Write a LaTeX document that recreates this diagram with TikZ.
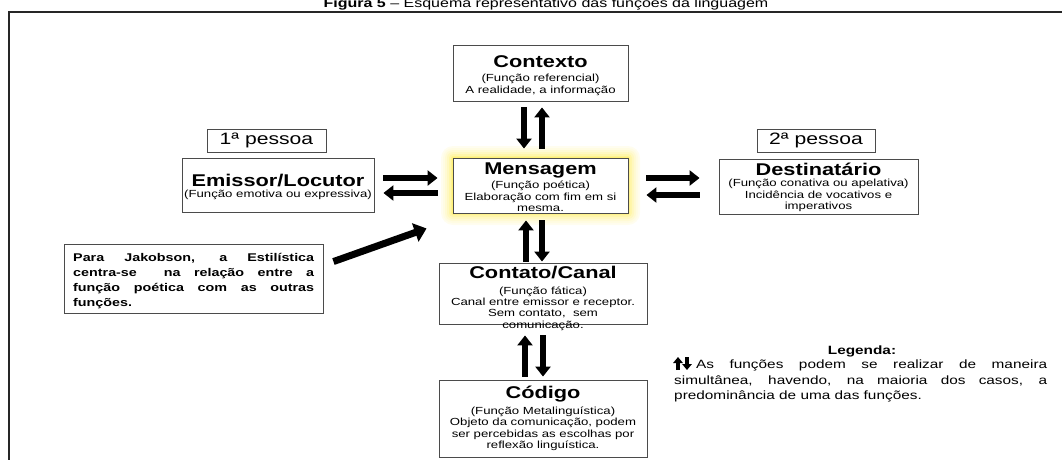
\documentclass[tikz,border=0pt]{standalone}
\usepackage{fontspec}
\setmainfont[FakeStretch=1.28]{Liberation Sans}
\usetikzlibrary{arrows.meta}
\definecolor{glow}{RGB}{255,238,100}
\definecolor{boxline}{RGB}{75,75,75}
\newcommand\boxtitle[1]{{\fontsize{17}{17}\selectfont\bfseries #1}}
\begin{document}
\begin{tikzpicture}[x=1pt,y=-1pt,
  box/.style={draw=boxline,line width=0.9pt,fill=white,inner sep=0pt},
  boxtext/.style={anchor=base,inner sep=0pt,align=center,
    font=\fontsize{10.3}{11.3}\selectfont},
  ptag/.style={draw=boxline,line width=0.9pt,fill=white,inner sep=0pt,
    font=\fontsize{16.5}{16.5}\selectfont},
  fat/.style={line width=5.5pt,-{Triangle[length=10pt,width=15pt]}},
  fatter/.style={line width=7pt,-{Triangle[length=12pt,width=19pt]}},
  tiny/.style={line width=3.5pt,-{Triangle[length=6pt,width=9.5pt]}},
]
\useasboundingbox (0,0) rectangle (1062,459);
% title and frame
\node[anchor=base,inner sep=0pt] (title) at (546,7)
  {\fontsize{12.5}{12.5}\selectfont\textbf{Figura 5} – Esquema representativo das funções da linguagem};
\draw[line width=1.5pt,black!85] (9,480) -- (9,12) -- (1080,12);
% glow around Mensagem
\foreach \d/\c in {12/10,10/18,8/28,6/40,4/55,2/72,1/88}
  \fill[glow!\c!white,rounded corners=\d pt] (453-\d,158-\d) rectangle (628+\d,213+\d);
% boxes (text nodes anchored at the baseline of their last line)
\node[box,minimum width=175pt,minimum height=56pt] (ctx) at (540.5,73) {};
\node[boxtext] (ctxT) at (540.5,93)
  {\boxtitle{Contexto}\\[2.7pt](Função referencial)\\A realidade, a informação};
\node[box,minimum width=175pt,minimum height=55pt] (msg) at (540.5,185.5) {};
\node[boxtext] (msgT) at (540.5,211.5)
  {\boxtitle{Mensagem}\\[2.7pt](Função poética)\\Elaboração com fim em si\\mesma.};
\node[box,minimum width=192pt,minimum height=54pt] (emi) at (278,185) {};
\node[boxtext] (emiT) at (278,197)
  {\boxtitle{Emissor/Locutor}\\[-0.8pt](Função emotiva ou expressiva)};
\node[ptag,minimum width=119pt,minimum height=23pt] (p1) at (266.5,140.5) {1ª pessoa};
\node[box,minimum width=199pt,minimum height=55pt] (dst) at (818.5,186.5) {};
\node[boxtext] (dstT) at (818.5,209.5)
  {\boxtitle{Destinatário}\\(Função conativa ou apelativa)\\Incidência de vocativos e\\imperativos};
\node[ptag,minimum width=118pt,minimum height=23pt] (p2) at (816,140.5) {2ª pessoa};
\node[box,minimum width=208pt,minimum height=61pt] (cont) at (543,293.5) {};
\node[boxtext] (contT) at (543,328)
  {\boxtitle{Contato/Canal}\\[4.5pt](Função fática)\\Canal entre emissor e receptor.\\Sem contato,\ \ sem\\comunicação.};
\node[box,minimum width=208pt,minimum height=77pt] (cod) at (543,418.5) {};
\node[boxtext] (codT) at (543,448.5)
  {\boxtitle{Código}\\[4.5pt](Função Metalinguística)\\Objeto da comunicação, podem\\ser percebidas as escolhas por\\reflexão linguística.};
\node[box,minimum width=259pt,minimum height=69pt] (jak) at (193.5,278.5) {};
\node[anchor=base west,inner sep=0pt,text width=241pt,align=justify,
  font=\fontsize{11.2}{15}\selectfont\bfseries] (jakT) at (73,261.5)
  {Para Jakobson, a Estilística\linebreak centra-se\ \ na relação entre a\linebreak função poética com as outras\linebreak funções.};
% arrows
\draw[fat] ([shift={(-16.5,6)}]ctx.south) -- ([shift={(-16.5,-9)}]msg.north);
\draw[fat] ([shift={(1.5,-9)}]msg.north) -- ([shift={(1.5,6)}]ctx.south);
\draw[fat] ([shift={(-17,-1)}]cont.north) -- ([shift={(-14.5,7)}]msg.south);
\draw[fat] ([shift={(1.5,7)}]msg.south) -- ([shift={(-1,-1)}]cont.north);
\draw[fat] ([shift={(-18,-3)}]cod.north) -- ([shift={(-18,11)}]cont.south);
\draw[fat] ([shift={(0,11)}]cont.south) -- ([shift={(0,-3)}]cod.north);
\draw[fat] ([shift={(9,-7)}]emi.east) -- ([shift={(-15,-7.5)}]msg.west);
\draw[fat] ([shift={(-15,7.5)}]msg.west) -- ([shift={(9,8)}]emi.east);
\draw[fat] ([shift={(18,-7.5)}]msg.east) -- ([shift={(-19,-8.5)}]dst.west);
\draw[fat] ([shift={(-19,8.5)}]dst.west) -- ([shift={(18,9.5)}]msg.east);
\draw[fatter] ([shift={(10,18)}]jak.north east) -- ([shift={(-26,15)}]msg.south west);
% legend
\node[font=\fontsize{12}{12}\selectfont\bfseries,anchor=base,inner sep=0pt] (leg) at (862,354) {Legenda:};
\node[anchor=base west,inner sep=0pt,text width=373pt,align=justify,
  font=\fontsize{12}{15.5}\selectfont] (legtext) at (674,368.5)
  {\hspace*{22pt}As funções podem se realizar de maneira\linebreak simultânea, havendo, na maioria dos casos, a\linebreak predominância de uma das funções.};
\coordinate (icon) at (674,357);
\draw[tiny] ([shift={(4,13)}]icon) -- ([shift={(4,0)}]icon);
\draw[tiny] ([shift={(13,0)}]icon) -- ([shift={(13,13)}]icon);
\end{tikzpicture}
\end{document}
